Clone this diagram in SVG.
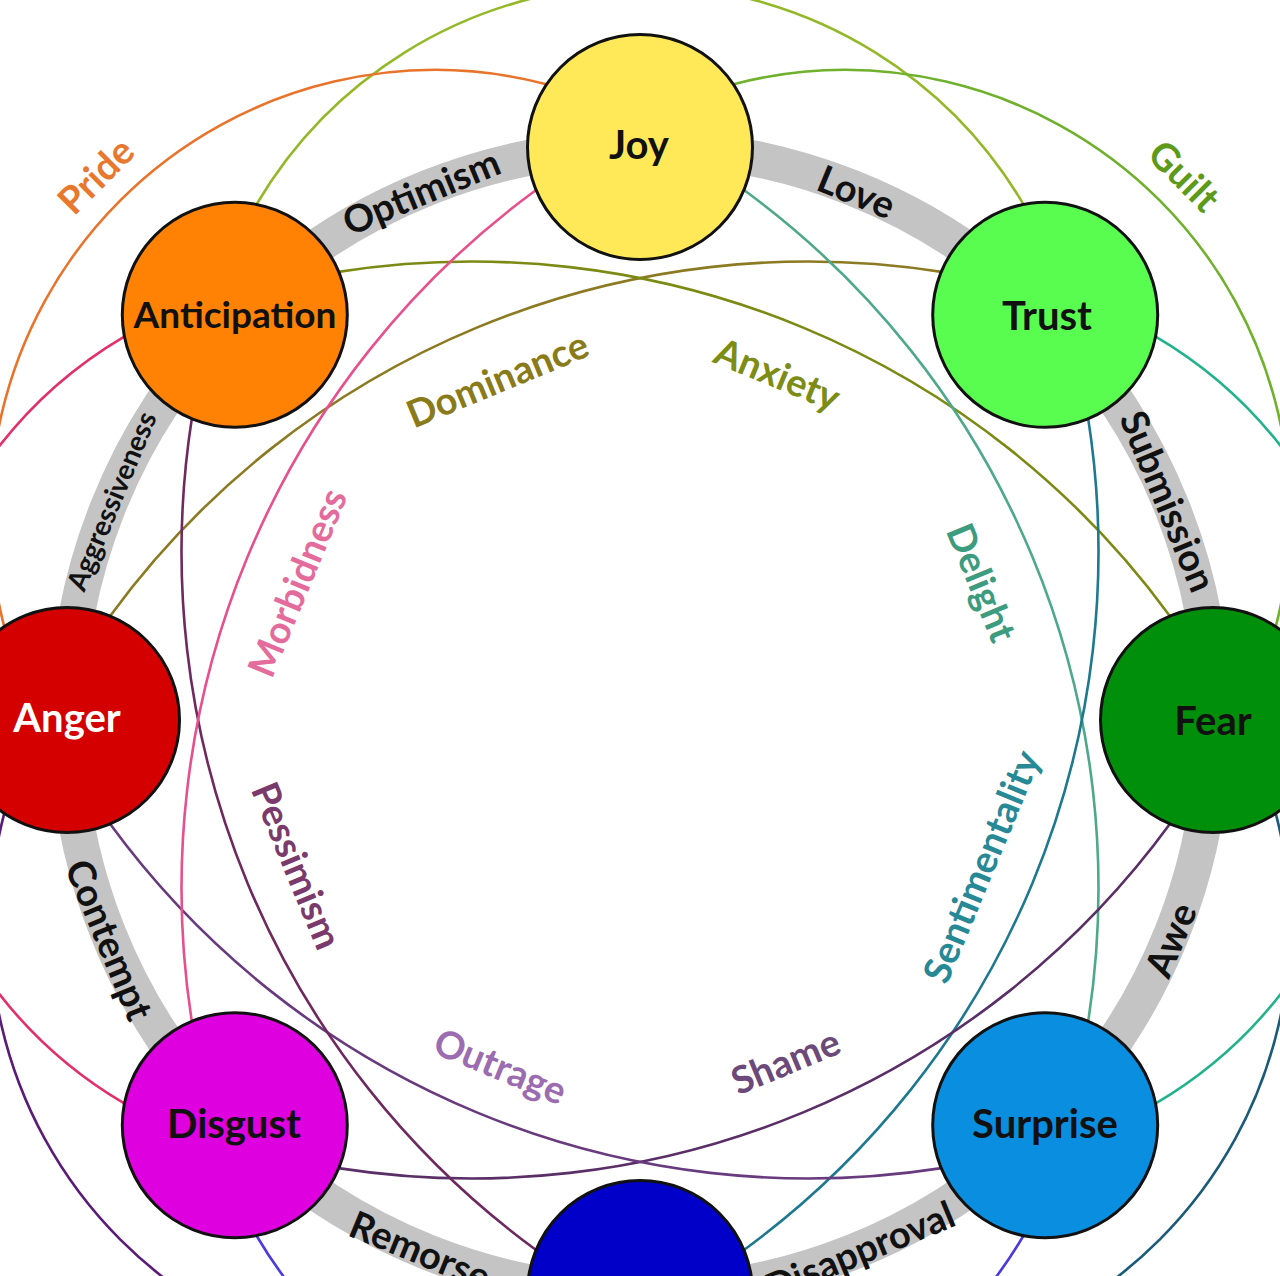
<svg xmlns="http://www.w3.org/2000/svg" width="1280" height="1276" viewBox="0 0 1280 1276">
<style>
.bg{fill:#ffffff}
.ring{fill:none;stroke:#c4c4c4;stroke-width:36}
.ringlbl{font-family:Lato,"Open Sans","Liberation Sans",sans-serif;font-weight:700;font-size:38px;fill:#111111;text-anchor:middle;dominant-baseline:central}
.arc{fill:none;stroke-width:2.6}
.node{stroke:#111111;stroke-width:3}
.nodelbl{font-family:Lato,"Open Sans","Liberation Sans",sans-serif;font-weight:700;font-size:40px;fill:#111111;text-anchor:middle;dominant-baseline:central}
.dyadlbl{font-family:Lato,"Open Sans","Liberation Sans",sans-serif;font-weight:700;font-size:38px;text-anchor:middle;dominant-baseline:central}
</style>
<defs>
<path id="outerBase" d="M 256.57 204.25 A 445 445 0 0 1 1023.43 204.25"/>
<path id="innerBase" d="M 109.80 616.41 A 865 865 0 0 1 941.66 271.85"/>
</defs>
<rect class="bg" x="0" y="0" width="1280" height="1276"/>
<g id="ring">
<circle class="ring" cx="640" cy="720" r="573"/>
<text class="ringlbl" transform="translate(420.7 190.6) rotate(-22.5)">Optimism</text>
<text class="ringlbl" transform="translate(857 190.6) rotate(22.5)">Love</text>
<text class="ringlbl" transform="translate(1169.4 500.7) rotate(67.5)">Submission</text>
<text class="ringlbl" transform="translate(1169.4 939.3) rotate(-67.5)">Awe</text>
<text class="ringlbl" transform="translate(859.3 1249.4) rotate(-22.5)">Disapproval</text>
<text class="ringlbl" transform="translate(420.7 1249.4) rotate(22.5)">Remorse</text>
<text class="ringlbl" transform="translate(110.6 939.3) rotate(67.5)">Contempt</text>
<text class="ringlbl" transform="translate(110.6 500.7) rotate(-67.5)" style="font-size:28px">Aggressiveness</text>
</g>
<g id="connectors">
<use id="dyad-hope" href="#outerBase" class="arc" stroke="#95b82a"/>
<use id="dyad-guilt" href="#outerBase" class="arc" stroke="#6fb02c" transform="rotate(45 640 720)"/>
<use id="dyad-curiosity" href="#outerBase" class="arc" stroke="#22b38c" transform="rotate(90 640 720)"/>
<use id="dyad-despair" href="#outerBase" class="arc" stroke="#1b5a78" transform="rotate(135 640 720)"/>
<use id="dyad-unbelief" href="#outerBase" class="arc" stroke="#4a3ae0" transform="rotate(180 640 720)"/>
<use id="dyad-envy" href="#outerBase" class="arc" stroke="#5a1c78" transform="rotate(225 640 720)"/>
<use id="dyad-cynicism" href="#outerBase" class="arc" stroke="#e2306a" transform="rotate(270 640 720)"/>
<use id="dyad-pride" href="#outerBase" class="arc" stroke="#e8742c" transform="rotate(315 640 720)"/>
<use id="dyad-dominance" href="#innerBase" class="arc" stroke="#8c7a22"/>
<use id="dyad-anxiety" href="#innerBase" class="arc" stroke="#7c8a14" transform="rotate(45 640 720)"/>
<use id="dyad-delight" href="#innerBase" class="arc" stroke="#4ea88a" transform="rotate(90 640 720)"/>
<use id="dyad-sentimentality" href="#innerBase" class="arc" stroke="#1e7890" transform="rotate(135 640 720)"/>
<use id="dyad-shame" href="#innerBase" class="arc" stroke="#5a2e66" transform="rotate(180 640 720)"/>
<use id="dyad-outrage" href="#innerBase" class="arc" stroke="#683a7e" transform="rotate(225 640 720)"/>
<use id="dyad-pessimism" href="#innerBase" class="arc" stroke="#6e2a5e" transform="rotate(270 640 720)"/>
<use id="dyad-morbidness" href="#innerBase" class="arc" stroke="#e6508c" transform="rotate(315 640 720)"/>
</g>
<g id="dyad-labels">
<text class="dyadlbl" fill="#e8782e" transform="translate(94.8 174.8) rotate(-45)">Pride</text>
<text class="dyadlbl" fill="#5e9a1a" transform="translate(1185.2 174.8) rotate(45)">Guilt</text>
<text class="dyadlbl" fill="#8a7b1a" transform="translate(497 378) rotate(-22.5)">Dominance</text>
<text class="dyadlbl" fill="#7c8c14" transform="translate(778 373) rotate(22.5)">Anxiety</text>
<text class="dyadlbl" fill="#3d9b7e" transform="translate(983 582) rotate(67.5)">Delight</text>
<text class="dyadlbl" fill="#278896" transform="translate(980 866) rotate(-67.5)">Sentimentality</text>
<text class="dyadlbl" fill="#6b4a7a" transform="translate(785 1060) rotate(-22.5)">Shame</text>
<text class="dyadlbl" fill="#9b6cb0" transform="translate(501 1065) rotate(22.5)">Outrage</text>
<text class="dyadlbl" fill="#7a3a6c" transform="translate(298 865) rotate(67.5)">Pessimism</text>
<text class="dyadlbl" fill="#e46c9c" transform="translate(296 582) rotate(-67.5)">Morbidness</text>
</g>
<g id="node-joy"><circle class="node" cx="640" cy="147" r="112.5" fill="#ffe958"/><text class="nodelbl" x="639" y="144">Joy</text></g>
<g id="node-trust"><circle class="node" cx="1045.2" cy="314.8" r="112.5" fill="#58fd50"/><text class="nodelbl" x="1047" y="315">Trust</text></g>
<g id="node-fear"><circle class="node" cx="1213" cy="720" r="112.5" fill="#008f0a"/><text class="nodelbl" x="1213" y="720">Fear</text></g>
<g id="node-surprise"><circle class="node" cx="1045.2" cy="1125.2" r="112.5" fill="#0a8ee0"/><text class="nodelbl" x="1045" y="1123">Surprise</text></g>
<g id="node-sadness"><circle class="node" cx="640" cy="1293" r="112.5" fill="#0000c8"/></g>
<g id="node-disgust"><circle class="node" cx="234.8" cy="1125.2" r="112.5" fill="#de00de"/><text class="nodelbl" x="234" y="1123">Disgust</text></g>
<g id="node-anger"><circle class="node" cx="67" cy="720" r="112.5" fill="#d40000"/><text class="nodelbl" x="67" y="717" style="fill:#ffffff">Anger</text></g>
<g id="node-anticipation"><circle class="node" cx="234.8" cy="314.8" r="112.5" fill="#ff8205"/><text class="nodelbl" x="235" y="313" style="font-size:37px">Anticipation</text></g>
</svg>
